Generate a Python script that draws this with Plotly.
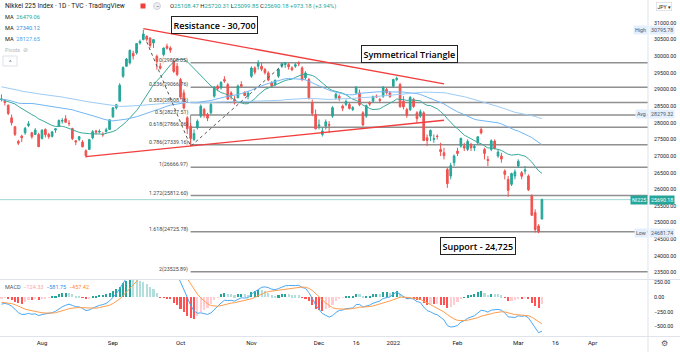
import numpy as np
import pandas as pd
import plotly.graph_objects as go

# ---------------- data (Nikkei 225, daily) ----------------
# closes before the visible window (needed for moving averages / MACD warm-up)
warmup_close = [30292, 30236, 30017, 30156, 29671, 30168, 28966,
                29664, 29408, 29559, 28930, 28864, 28743, 29028, 29036, 29212, 29717, 29766, 29921, 29914, 30216,
                29792, 29174, 28995, 28405, 28729, 29176, 29384, 29432, 29178,
                29388, 29854, 30089, 29696, 29730, 29708, 29768, 29538, 29751, 29620, 29642, 29683, 29685, 29100,
                28508, 29188, 29020, 29126, 28991, 29053, 28812,
                29331, 29357, 29518, 28608, 28147, 27448, 28084, 27824, 28406, 28044, 28098, 28317, 28364, 28553,
                28642, 28549, 29149, 28860,
                28814, 28946, 29058, 28941, 29019, 28963, 28860, 28958, 28948, 29161, 29441, 29291, 29018, 28964,
                28010, 28884, 28874, 28875, 29066, 29048, 28812, 28791,
                28707, 28783, 28598, 28643, 28366, 28118, 27940, 28569]

opens = [28700, 28650, 28530, 28150, 27880, 27440, 27600, 27700, 27920, 27700, 27650, 27650,
         27530, 27800, 27650, 27590, 27780, 27900, 28050, 28120, 27990, 27830, 27460, 27500, 27420, 27160, 27200, 27550, 27750, 27720, 27650, 27740, 27800,
         28180, 28450, 28650, 29400, 29700, 29800, 30090, 30100, 30400, 30500, 30600, 30550, 30400, 30000, 29700, 30050, 30300, 30250, 29850, 29700,
         29300, 28900, 28150, 27900, 27500, 27850, 28200, 28400, 28250, 28300, 28800, 29100, 29050, 29300, 29150, 28900, 28700, 28750, 29150, 28900, 28800,
         29400, 29650, 29700, 29700, 29600, 29500, 29200, 29150, 29400, 29700, 29750, 29750, 29650, 29700, 29800, 29650, 29350, 29300, 28600, 28250,
         27900, 27650, 27900, 27950, 28200, 28750, 28800, 28500, 28550, 28550, 28400, 28900, 28900, 28300, 28200, 28600, 28650, 28800, 28700, 28800, 29000, 28900,
         29100, 29300, 29150, 28650, 28400, 28400, 28700, 28300, 28200, 28300, 27550, 27600, 27500, 27600, 27200, 27100, 26600, 26400, 26800,
         27150, 27300, 27300, 27200, 27350, 27250, 27400, 27800, 27200, 26900, 27200, 27450, 27000, 27000, 26550, 26300, 26150, 26400,
         26700, 26500, 26550, 26400, 25800, 25300, 24900, 25108.47]
highs = [28852, 28720, 28550, 28250, 27900, 27490, 27640, 27880, 28050, 27730, 27840, 27700,
         27800, 27830, 27700, 27750, 27840, 28100, 28140, 28230, 28080, 27850, 27480, 27600, 27480, 27200, 27520, 27780, 27790, 27800, 27720, 27850, 28100,
         28470, 28570, 29190, 29700, 29950, 30200, 30170, 30400, 30500, 30795.78, 30630, 30560, 30500, 30050, 29800, 30260, 30380, 30300, 29900, 29800,
         29350, 29000, 28200, 28000, 27800, 28100, 28550, 28450, 28300, 28600, 29100, 29150, 29250, 29400, 29200, 28950, 28800, 29150, 29250, 28950, 28950,
         29700, 29700, 29880, 29800, 29650, 29550, 29250, 29300, 29650, 29800, 29830, 29800, 29700, 29800, 29850, 29700, 29550, 29350, 28700, 28400,
         28100, 27850, 28100, 28050, 28500, 28900, 28850, 28550, 28700, 28600, 28500, 29100, 29000, 28350, 28550, 28650, 28800, 28850, 28750, 29100, 29050, 28950,
         29320, 29388, 29200, 28800, 28450, 28800, 28750, 28350, 28400, 28350, 27650, 27800, 27650, 27650, 27400, 27250, 26650, 26800, 27050,
         27250, 27550, 27400, 27500, 27400, 27350, 27600, 27880, 27250, 27000, 27500, 27500, 27200, 27100, 26600, 26400, 26500, 26600,
         26900, 26550, 26700, 26450, 25850, 25400, 24950, 25720.31]
lows = [28640, 28520, 28230, 27920, 27600, 27330, 27420, 27640, 27870, 27520, 27630, 27270,
        27500, 27560, 27520, 27560, 27700, 27880, 27980, 28000, 27900, 27480, 27330, 27450, 27260, 26954, 27180, 27500, 27650, 27680, 27580, 27700, 27790,
        28150, 28400, 28640, 29350, 29680, 29750, 29900, 30050, 30350, 30480, 30450, 30250, 30250, 29600, 29600, 30000, 30200, 30100, 29500, 29400,
        28700, 28400, 27660, 27293, 27450, 27800, 28150, 28150, 28050, 28250, 28750, 28950, 29000, 29200, 28700, 28700, 28550, 28750, 29050, 28800, 28700,
        29350, 29450, 29600, 29550, 29450, 29250, 29050, 29100, 29350, 29650, 29650, 29600, 29550, 29650, 29700, 29250, 29300, 28700, 28200, 27800,
        27800, 27588, 27800, 27700, 28150, 28700, 28650, 28350, 28500, 28400, 28350, 28850, 28500, 27900, 28150, 28500, 28600, 28750, 28600, 28750, 28850, 28750,
        29050, 29250, 28450, 28400, 28150, 28350, 28450, 28000, 28150, 27450, 27300, 27450, 27400, 27500, 27000, 26900, 26044, 26300, 26700,
        27000, 27250, 27150, 27150, 27150, 27150, 27350, 27650, 26900, 26700, 27150, 27200, 26950, 26800, 26300, 25775, 26100, 26300,
        26650, 26300, 26450, 25950, 25200, 24700, 24681.74, 25099.85]
closes = [28718, 28608, 28279, 28003, 27652, 27388, 27548, 27833, 27970, 27581, 27782, 27283,
          27781, 27641, 27584, 27728, 27820, 28070, 28070, 28015, 27977, 27523, 27424, 27585, 27281, 27013, 27494, 27732, 27724, 27742, 27641, 27789, 28089,
          28451, 28543, 29128, 29660, 29916, 30181, 30008, 30381, 30447, 30670, 30511, 30323, 30500, 29839, 29639, 30248, 30240, 30183, 29544, 29452,
          28771, 28444, 27822, 27528, 27678, 28048, 28498, 28230, 28140, 28550, 29068, 29025, 29215, 29255, 28708, 28804, 28600, 29106, 29098, 28820, 28892,
          29647, 29520, 29794, 29611, 29507, 29285, 29106, 29277, 29609, 29776, 29808, 29688, 29598, 29745, 29774, 29302, 29499, 28751, 28283, 27821,
          27935, 27753, 28029, 27927, 28455, 28860, 28725, 28437, 28640, 28432, 28459, 29066, 28545, 27937, 28517, 28562, 28798, 28782, 28676, 29069, 28906, 28791,
          29301, 29332, 28487, 28478, 28222, 28765, 28489, 28124, 28333, 27467, 27467, 27772, 27522, 27588, 27131, 27011, 26170, 26717, 27001,
          27078, 27533, 27241, 27440, 27248, 27284, 27579, 27696, 27079, 26865, 27460, 27232, 27122, 26910, 26449, 25970, 26476, 26526,
          26844, 26393, 26577, 25985, 25221, 24790, 24717, 25690.18]

market_holidays = ['2021-07-22', '2021-07-23', '2021-08-09', '2021-09-20', '2021-09-23', '2021-11-03',
                   '2021-11-23', '2021-12-31', '2022-01-03', '2022-01-10', '2022-02-11', '2022-02-23', '2022-03-21']
tick_dates = ['2021-08-02', '2021-09-01', '2021-10-01', '2021-11-01', '2021-12-01', '2021-12-16',
              '2022-01-04', '2022-02-01', '2022-03-01', '2022-03-16', '2022-04-01']
tick_labels = ['Aug', 'Sep', 'Oct', 'Nov', 'Dec', '16', '2022', 'Feb', 'Mar', '16', 'Apr']
price_ticks = list(range(23500, 31500, 500))
macd_ticks = [-500, -250, 0, 250]

fib_ratios = ['0', '0.236', '0.382', '0.5', '0.618', '0.786', '1', '1.272', '1.618', '2']
fib_prices = [29808.05, 29066.76, 28608.16, 28237.51, 27866.86, 27339.16, 26666.97, 25812.60, 24725.78, 23525.89]
fib_start_date = '2021-10-06'
fib_trend_dates = ['2021-09-15', '2021-10-06', '2021-11-16']
fib_trend_prices = [30434.0, 27293.0, 29808.05]

resistance_dates = ['2021-09-14', '2022-01-26']
resistance_prices = [30830, 29170]
support_tl_dates = ['2021-08-20', '2022-01-26']
support_tl_prices = [26985, 28076]

last_price = 25690.18
high_price = 30795.78
low_price = 24681.74
avg_price = 28279.32
ma_periods = [20, 50, 100]

# ---------------- calculations ----------------
dates_all = pd.bdate_range('2021-07-13', '2022-04-01')
dates_all = dates_all[~dates_all.isin(pd.to_datetime(market_holidays))]
pos = {d.strftime('%Y-%m-%d'): i for i, d in enumerate(dates_all)}
n = len(closes)
x = np.arange(n)

full = pd.Series(warmup_close + closes, dtype=float)
mas = [full.rolling(p).mean().iloc[-n:].values for p in ma_periods]
ema12 = full.ewm(span=12, adjust=False).mean()
ema26 = full.ewm(span=26, adjust=False).mean()
macd = ema12 - ema26
signal = macd.ewm(span=9, adjust=False).mean()
hist = (macd - signal)
macd_v = macd.iloc[-n:].values
sig_v = signal.iloc[-n:].values
hist_all = hist.values
hist_v = hist_all[-n:]
hist_colors = []
for k in range(len(hist_all) - n, len(hist_all)):
    h, hp = hist_all[k], hist_all[k - 1]
    if h >= 0:
        hist_colors.append('#26a69a' if h >= hp else '#b2dfdb')
    else:
        hist_colors.append('#ff5252' if h < hp else '#ffcdd2')

# ---------------- geometry ----------------
W, H = 680, 352
PW, PH = 648, 336  # plot area (left=0, top=0)
spacing = 3.378
x0px = 1.46
xr = [-x0px / spacing, (PW - x0px) / spacing]


def PX(p):
    return p / PW


def PY(p):
    return 1 - p / PH


UP, DN = '#26a69a', '#ef5350'
TXT = '#131722'
FONT = 'Roboto'

fig = go.Figure()
fig.add_trace(go.Candlestick(
    x=x, open=opens, high=highs, low=lows, close=closes,
    increasing=dict(line=dict(color=UP, width=1), fillcolor=UP),
    decreasing=dict(line=dict(color=DN, width=1), fillcolor=DN),
    whiskerwidth=0, showlegend=False, hoverinfo='skip', xaxis='x', yaxis='y'))

ma_colors = ['#3aa99c', '#72b6f3', '#9ccbf6']
for m, c in zip(mas, ma_colors):
    fig.add_trace(go.Scatter(x=x, y=m, mode='lines', line=dict(color=c, width=1),
                             showlegend=False, hoverinfo='skip', xaxis='x', yaxis='y'))

# fib trend dashed line
fig.add_trace(go.Scatter(x=[pos[d] for d in fib_trend_dates], y=fib_trend_prices, mode='lines',
                         line=dict(color='#555555', width=1, dash='dot'), showlegend=False,
                         hoverinfo='skip', xaxis='x', yaxis='y'))

# MACD pane
fig.add_trace(go.Bar(x=x, y=hist_v, marker=dict(color=hist_colors, line=dict(width=0)), width=0.62,
                     showlegend=False, hoverinfo='skip', xaxis='x2', yaxis='y2'))
fig.add_trace(go.Scatter(x=x, y=macd_v, mode='lines', line=dict(color='#4aa8f2', width=1),
                         showlegend=False, hoverinfo='skip', xaxis='x2', yaxis='y2'))
fig.add_trace(go.Scatter(x=x, y=sig_v, mode='lines', line=dict(color='#ff9d4d', width=1),
                         showlegend=False, hoverinfo='skip', xaxis='x2', yaxis='y2'))

shapes = []
fs = pos[fib_start_date]
for fp in fib_prices:
    shapes.append(dict(type='line', xref='x', yref='y', x0=fs, x1=xr[1], y0=fp, y1=fp,
                       line=dict(color='#8f8f8f', width=1.5), layer='below'))
shapes.append(dict(type='line', xref='x', yref='y', x0=fs, x1=fs, y0=fib_prices[3], y1=fib_prices[5],
                   line=dict(color='#8f8f8f', width=1), layer='below'))
# trend lines
for ds, ps in [(resistance_dates, resistance_prices), (support_tl_dates, support_tl_prices)]:
    shapes.append(dict(type='line', xref='x', yref='y', x0=pos[ds[0]], x1=pos[ds[1]], y0=ps[0], y1=ps[1],
                       line=dict(color='#f23d3d', width=1.3)))
# last price line
shapes.append(dict(type='line', xref='x', yref='y', x0=xr[0], x1=xr[1], y0=last_price, y1=last_price,
                   line=dict(color='#9fd8d2', width=1), layer='below'))
# separators
SEP = '#e0e3eb'
shapes.append(dict(type='line', xref='paper', yref='paper', x0=PX(648), x1=PX(648), y0=PY(0), y1=PY(352),
                   line=dict(color=SEP, width=1)))
shapes.append(dict(type='line', xref='paper', yref='paper', x0=0, x1=PX(680), y0=PY(279.5), y1=PY(279.5),
                   line=dict(color=SEP, width=1)))
shapes.append(dict(type='line', xref='paper', yref='paper', x0=0, x1=PX(680), y0=PY(336.5), y1=PY(336.5),
                   line=dict(color=SEP, width=1)))
# UI bits
shapes.append(dict(type='circle', xref='paper', yref='paper', x0=PX(153.5), x1=PX(160.5), y0=PY(2.5), y1=PY(9.5),
                   line=dict(color='#c9ccd3', width=0.8), fillcolor='#eceef2'))
shapes.append(dict(type='rect', xref='paper', yref='paper', x0=PX(3), x1=PX(17), y0=PY(56), y1=PY(66),
                   line=dict(color='#d6d9e0', width=0.8), fillcolor='white'))
shapes.append(dict(type='rect', xref='paper', yref='paper', x0=PX(140.5), x1=PX(145.5), y0=PY(3.5), y1=PY(8.5),
                   line=dict(width=0), fillcolor='#f23d3d'))

ann = []


def txt(xp, yp, text, size=5.5, color=TXT, xanchor='left', family=FONT, **kw):
    d = dict(x=PX(xp), y=PY(yp), xref='paper', yref='paper', text=text, showarrow=False,
             xanchor=xanchor, yanchor='middle', font=dict(size=size, color=color, family=family))
    d.update(kw)
    ann.append(d)


# top legend
txt(3, 6, 'Nikkei 225 Index · 1D · TVC · TradingView', size=6.6)
txt(157, 6, '−', size=6, xanchor='center', color='#50535e')
G = '#26a69a'
ohlc = (f'O<span style="color:{G}">{opens[-1]:.2f}</span> H<span style="color:{G}">{highs[-1]:.2f}</span> '
        f'L<span style="color:{G}">{lows[-1]:.2f}</span> C<span style="color:{G}">{closes[-1]:.2f}</span> '
        f'<span style="color:{G}">+{closes[-1] - closes[-2]:.2f} (+{(closes[-1] / closes[-2] - 1) * 100:.2f}%)</span>')
txt(168, 6, ohlc, size=5.9)
ma_txt_colors = ['#26a69a', '#2f8de4', '#4aa3ef']
for k, (m, c) in enumerate(zip(mas, ma_txt_colors)):
    txt(3, 16.5 + 11 * k, f'MA  <span style="color:{c}">{m[-1]:.2f}</span>', size=5.6)
txt(3, 49.5, 'Pivots  ⊘', size=5.5, color='#b2b5be')
txt(10, 61, '^', size=6, xanchor='center', color='#50535e')
txt(664, 6.5, 'JPY ▾', size=5, xanchor='center', bgcolor='white', bordercolor='#d1d4dc', borderwidth=0.6, borderpad=1)

# MACD legend
txt(3, 287, f'MACD  <span style="color:#f6a5a5">{hist_v[-1]:.2f}</span>  '
            f'<span style="color:#2f8de4">{macd_v[-1]:.2f}</span>  '
            f'<span style="color:#ff8a2b">{sig_v[-1]:.2f}</span>'.replace('-', '−'), size=5.5, color='#50535e')

# fib labels
for r, fp in zip(fib_ratios, fib_prices):
    ann.append(dict(x=fs, y=fp, xref='x', yref='y', text=f'{r}({fp:.2f})', showarrow=False,
                    xanchor='right', yanchor='middle', xshift=-1, yshift=2.5,
                    font=dict(size=5.3, color='#444444', family=FONT)))

# right-axis value labels
LB = '#e3effd'


def axis_label(price, tag, value_text, bg, fg):
    ann.append(dict(x=PX(647.5), y=price, xref='paper', yref='y', text=tag, showarrow=False, xanchor='right',
                    yanchor='middle', bgcolor=bg, borderpad=1, font=dict(size=5.3, color=fg, family=FONT)))
    ann.append(dict(x=PX(649), y=price, xref='paper', yref='y', text=value_text, showarrow=False, xanchor='left',
                    yanchor='middle', bgcolor=bg, borderpad=1, font=dict(size=5.3, color=fg, family=FONT)))


axis_label(high_price, 'High', f'{high_price:.2f}', LB, '#50535e')
axis_label(avg_price, 'Avg', f'{avg_price:.2f}', LB, '#50535e')
axis_label(low_price, 'Low', f'{low_price:.2f}', LB, '#50535e')
axis_label(last_price, 'NI225', f'{last_price:.2f}', UP, 'white')

# callout boxes
BOXF = dict(size=9, color='#000000', family='Open Sans', weight=600)
for xp, yp, t in [(214, 25.5, 'Resistance - 30,700'), (409, 54, 'Symmetrical Triangle'),
                  (478, 246.5, 'Support - 24,725')]:
    ann.append(dict(x=PX(xp), y=PY(yp), xref='paper', yref='paper', text=t, showarrow=False,
                    xanchor='center', yanchor='middle', bgcolor='white', bordercolor='#222222',
                    borderwidth=1, borderpad=1.5, font=BOXF))

# gear
txt(664, 343, '⚙', size=8, xanchor='center', color='#50535e', family='DejaVu Sans')

fig.update_layout(
    width=W, height=H, margin=dict(l=0, r=W - PW, t=0, b=H - PH),
    paper_bgcolor='white', plot_bgcolor='white', showlegend=False, bargap=0,
    xaxis=dict(domain=[0, 1], range=xr, anchor='y', showticklabels=False, showgrid=False,
               zeroline=False, rangeslider=dict(visible=False), fixedrange=True),
    xaxis2=dict(domain=[0, 1], range=xr, anchor='y2', matches='x', showgrid=False, zeroline=False,
                tickvals=[pos[d] for d in tick_dates], ticktext=tick_labels, ticks='',
                tickfont=dict(size=6, color=TXT, family=FONT), ticklabelstandoff=2),
    yaxis=dict(domain=[1 - 279 / PH, 1], range=[23305, 31691], side='right', anchor='x',
               tickvals=price_ticks, tickformat='.2f', showgrid=False, zeroline=False,
               tickfont=dict(size=5.3, color=TXT, family=FONT), ticks='', ticklabelstandoff=5),
    yaxis2=dict(domain=[0, 1 - 280 / PH], range=[-664, 290], side='right', anchor='x2',
                tickvals=macd_ticks, tickformat='.2f', showgrid=False, zeroline=False,
                tickfont=dict(size=5.3, color=TXT, family=FONT), ticks='', ticklabelstandoff=5),
    shapes=shapes, annotations=ann,
)

fig.write_html('out.html')
